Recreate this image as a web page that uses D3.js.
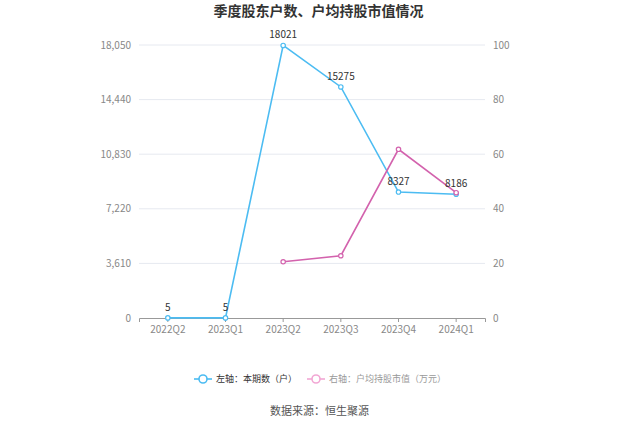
<!DOCTYPE html>
<html>
<head>
<meta charset="UTF-8">
<script src="https://d3js.org/d3.v7.min.js"></script>
<style>
  body { margin: 0; background: #fff; }
  text { font-family: "Noto Sans CJK SC", "Noto Sans", sans-serif; }
</style>
</head>
<body>
<svg id="chart" width="637" height="431"></svg>
<script>
const quarters = ["2022Q2", "2023Q1", "2023Q2", "2023Q3", "2023Q4", "2024Q1"];
const holders = [5, 5, 18021, 15275, 8327, 8186];
const avgValue = [null, null, 20.6, 22.8, 61.8, 45.9];
const leftTicks = [0, 3610, 7220, 10830, 14440, 18050];
const rightTicks = [0, 20, 40, 60, 80, 100];

const blue = "#4cbcf2";
const pink = "#d362ad";
const m = {top: 45, bottom: 113, left: 139, right: 152};
const W = 637, H = 431;
const w = W - m.left - m.right;
const h = H - m.top - m.bottom;

const svg = d3.select("#chart");

svg.append("text")
  .attr("x", W / 2).attr("y", 16)
  .attr("text-anchor", "middle")
  .attr("font-size", 14).attr("font-weight", "bold").attr("fill", "#333")
  .text("季度股东户数、户均持股市值情况");

const g = svg.append("g").attr("transform", `translate(${m.left},${m.top})`);

const x = d3.scaleBand().domain(quarters).range([0, w]);
const yL = d3.scaleLinear().domain([0, 18050]).range([h, 0]);
const yR = d3.scaleLinear().domain([0, 100]).range([h, 0]);
const cx = d => x(d) + x.bandwidth() / 2;

// grid lines
g.selectAll(".grid").data(leftTicks.slice(1)).enter().append("line")
  .attr("x1", 0).attr("x2", w)
  .attr("y1", d => yL(d)).attr("y2", d => yL(d))
  .attr("stroke", "#e6e9f0");

// left axis labels
g.selectAll(".ly").data(leftTicks).enter().append("text")
  .attr("x", -8).attr("y", d => yL(d)).attr("dy", "0.35em")
  .attr("text-anchor", "end").attr("font-size", 10).attr("fill", "#888")
  .text(d => d3.format(",")(d));

// right axis labels
g.selectAll(".ry").data(rightTicks).enter().append("text")
  .attr("x", w + 8).attr("y", d => yR(d)).attr("dy", "0.35em")
  .attr("font-size", 10).attr("fill", "#888")
  .text(d => d);

// x axis
const xAxis = g.append("g").attr("transform", `translate(0,${h})`)
  .call(d3.axisBottom(x).tickSize(4).tickPadding(4));
xAxis.select(".domain").attr("stroke", "#999");
xAxis.selectAll(".tick line").attr("stroke", "#999");
xAxis.selectAll("text").attr("font-size", 10).attr("fill", "#888")
  .attr("font-family", "'Noto Sans CJK SC', 'Noto Sans', sans-serif");

// blue line
const blueData = quarters.map((q, i) => ({q, v: holders[i]}));
g.append("path").datum(blueData)
  .attr("fill", "none").attr("stroke", blue).attr("stroke-width", 1.6)
  .attr("d", d3.line().x(d => cx(d.q)).y(d => yL(d.v)));
g.selectAll(".bp").data(blueData).enter().append("circle")
  .attr("cx", d => cx(d.q)).attr("cy", d => yL(d.v)).attr("r", 2.2)
  .attr("fill", "#fff").attr("stroke", blue).attr("stroke-width", 1.2);

// pink line
const pinkData = quarters.map((q, i) => ({q, v: avgValue[i]})).filter(d => d.v != null);
g.append("path").datum(pinkData)
  .attr("fill", "none").attr("stroke", pink).attr("stroke-width", 1.6)
  .attr("d", d3.line().x(d => cx(d.q)).y(d => yR(d.v)));
g.selectAll(".pp").data(pinkData).enter().append("circle")
  .attr("cx", d => cx(d.q)).attr("cy", d => yR(d.v)).attr("r", 2.2)
  .attr("fill", "#fff").attr("stroke", pink).attr("stroke-width", 1.2);

// value labels
g.selectAll(".bl").data(blueData).enter().append("text")
  .attr("x", d => cx(d.q)).attr("y", d => yL(d.v) - 7)
  .attr("text-anchor", "middle").attr("font-size", 10).attr("fill", "#333")
  .text(d => d.v);

// legend
const lg = svg.append("g").attr("transform", "translate(0,379)");
const items = [
  {label: "左轴：本期数（户）", color: blue, text: "#333", x: 194},
  {label: "右轴：户均持股市值（万元）", color: "#f2a7d4", text: "#999", x: 307}
];
items.forEach(it => {
  lg.append("line").attr("x1", it.x).attr("x2", it.x + 18).attr("y1", 0).attr("y2", 0)
    .attr("stroke", it.color).attr("stroke-width", 1.6);
  lg.append("circle").attr("cx", it.x + 9).attr("cy", 0).attr("r", 4)
    .attr("fill", "#fff").attr("stroke", it.color).attr("stroke-width", 1.6);
  lg.append("text").attr("x", it.x + 22).attr("y", 0).attr("dy", "0.35em")
    .attr("font-size", 9).attr("fill", it.text).text(it.label);
});

svg.append("text")
  .attr("x", W / 2 + 1).attr("y", 415)
  .attr("text-anchor", "middle").attr("font-size", 11).attr("fill", "#555")
  .text("数据来源：恒生聚源");
</script>
</body>
</html>
